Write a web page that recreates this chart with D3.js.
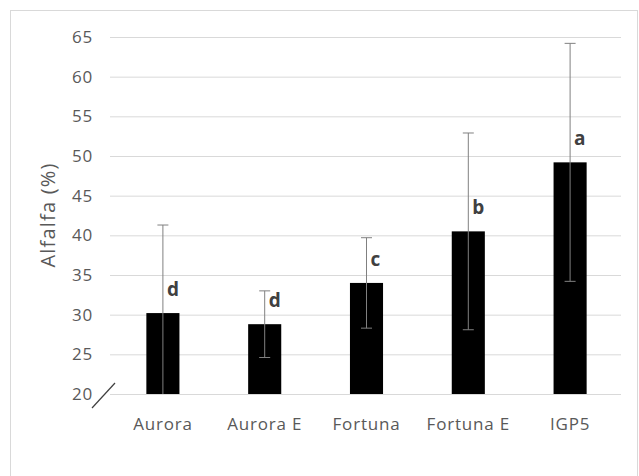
<!doctype html>
<html lang="en">
  <head>
    <meta charset="utf-8">
    <title>Alfalfa (%)</title>
    <script src="https://cdn.jsdelivr.net/npm/d3@7"></script>
    <style>
      body { margin: 0; background: #fff; }
      text { font-family: "Open Sans", "Noto Sans", sans-serif; }
    </style>
  </head>
  <body>
    <script>
      const categories = ["Aurora", "Aurora E", "Fortuna", "Fortuna E", "IGP5"];
      const values = [30.2, 28.8, 34.0, 40.5, 49.2];
      const errors = [11.1, 4.2, 5.7, 12.4, 15.0];
      const letters = ["d", "d", "c", "b", "a"];
      const yTicks = [20, 25, 30, 35, 40, 45, 50, 55, 60, 65];

      const w = 639;
      const h = 476;

      const xScale = d3.scaleBand()
                       .domain(categories)
                       .range([112, 621])
                       .paddingInner(0.675)
                       .paddingOuter(0.3375);
      const yScale = d3.scaleLinear()
                       .domain([20, 65])
                       .range([394, 37]);

      const svg = d3.select("body")
                    .append("svg")
                    .attr("width", w)
                    .attr("height", h);

      // chart frame
      svg.append("rect")
         .attr("x", 10.5)
         .attr("y", 10.5)
         .attr("width", 627)
         .attr("height", 470)
         .attr("fill", "#fff")
         .attr("stroke", "#d9d9d9");

      // gridlines
      svg.append("g")
         .attr("transform", "translate(110,0)")
         .call(d3.axisLeft(yScale).tickValues(yTicks).tickSize(-(621 - 110)).tickFormat(""))
         .call(g => g.select(".domain").remove())
         .call(g => g.selectAll("line").attr("stroke", "#d9d9d9"));

      // y tick labels
      const yAxis = d3.axisLeft(yScale).tickValues(yTicks).tickSize(0).tickPadding(0);
      svg.append("g")
         .attr("transform", "translate(93,0)")
         .call(yAxis)
         .call(g => g.select(".domain").remove())
         .call(g => g.selectAll("text")
                     .attr("font-size", 17)
                     .attr("letter-spacing", 0.8)
                     .attr("font-family", "'Open Sans', sans-serif")
                     .attr("fill", "#595959"));

      // axis break mark
      svg.append("line")
         .attr("x1", 92).attr("y1", yScale(20) + 14)
         .attr("x2", 115).attr("y2", yScale(20) - 11)
         .attr("stroke", "#404040")
         .attr("stroke-width", 1.2);

      // x labels
      const xAxis = d3.axisBottom(xScale).tickSize(0).tickPadding(0);
      svg.append("g")
         .attr("transform", "translate(0,418)")
         .call(xAxis)
         .call(g => g.select(".domain").remove())
         .call(g => g.selectAll("text")
                     .attr("font-size", 17)
                     .attr("letter-spacing", 0.8)
                     .attr("font-family", "'Open Sans', sans-serif")
                     .attr("fill", "#595959"));

      // bars
      svg.selectAll("rect.bar")
         .data(values)
         .enter()
         .append("rect")
         .attr("class", "bar")
         .attr("x", (d, i) => xScale(categories[i]))
         .attr("y", d => yScale(d))
         .attr("width", xScale.bandwidth())
         .attr("height", d => yScale(20) - yScale(d))
         .attr("fill", "#000");

      // error bars
      const cap = 5.5;
      const err = svg.append("g").attr("stroke", "#808080").attr("stroke-width", 1);
      values.forEach((v, i) => {
        const cx = xScale(categories[i]) + xScale.bandwidth() / 2;
        const hi = v + errors[i];
        const lo = Math.max(v - errors[i], 20);
        err.append("line")
           .attr("x1", cx).attr("x2", cx)
           .attr("y1", yScale(hi)).attr("y2", yScale(lo));
        err.append("line")
           .attr("x1", cx - cap).attr("x2", cx + cap)
           .attr("y1", yScale(hi)).attr("y2", yScale(hi));
        if (v - errors[i] > 20) {
          err.append("line")
             .attr("x1", cx - cap).attr("x2", cx + cap)
             .attr("y1", yScale(lo)).attr("y2", yScale(lo));
        }
      });

      // significance letters
      svg.selectAll("text.letter")
         .data(letters)
         .enter()
         .append("text")
         .attr("class", "letter")
         .attr("x", (d, i) => xScale(categories[i]) + xScale.bandwidth() / 2 + 4)
         .attr("y", (d, i) => yScale(values[i]) - 17)
         .attr("font-size", 19)
         .attr("font-weight", "bold")
         .attr("fill", "#404040")
         .text(d => d);

      // y title
      svg.append("text")
         .attr("transform", "translate(55,215) rotate(-90)")
         .attr("text-anchor", "middle")
         .attr("font-size", 20)
         .attr("letter-spacing", 1.2)
         .attr("fill", "#595959")
         .text("Alfalfa (%)");
    </script>
  </body>
</html>
